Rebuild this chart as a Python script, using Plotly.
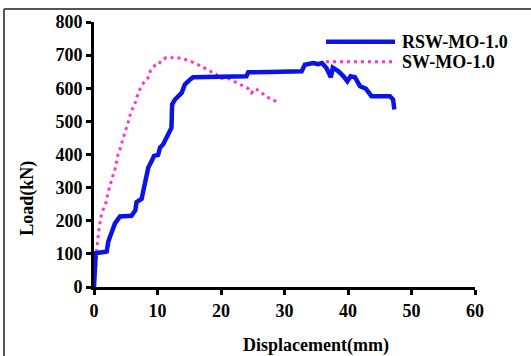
import plotly.graph_objects as go

# Load–displacement response of the two wall specimens
rsw_disp = [0, 0.27, 2.0, 2.25, 2.8, 3.3, 4.1, 5.9, 6.5, 6.7, 7.5, 7.9, 8.3, 8.55, 9.1,
            9.45, 10.1, 10.4, 10.9, 11.4, 12.2, 12.3, 12.75, 13.8, 14.3, 15.1, 15.6,
            24.0, 24.3, 27.7, 32.7, 33.2, 34.5, 35.3, 35.9, 36.6, 37.3, 37.6, 38.5,
            39.3, 39.9, 40.4, 41.1, 41.9, 42.8, 43.7, 46.6, 47.1, 47.3]
rsw_load = [0, 102, 107, 137, 166, 192, 213, 215, 231, 256, 266, 301, 325, 361, 381,
            396, 399, 421, 431, 451, 481, 551, 566, 586, 611, 626, 633,
            636, 648, 649, 651, 671, 676, 673, 676, 661, 633, 662, 651,
            636, 621, 636, 633, 606, 599, 576, 576, 566, 536]

sw_disp = [0, 0.27, 0.42, 0.8, 1.2, 1.9, 2.25, 2.9, 3.3, 3.8, 4.2, 4.5, 5.0, 5.6, 5.8,
           6.35, 6.7, 7.2, 7.8, 8.5, 8.9, 9.6, 10.2, 10.5, 11.4, 12.5, 13.7, 14.9,
           15.9, 17.0, 18.0, 19.2, 19.8, 20.6, 21.3, 22.5, 23.4, 24.3, 24.8, 25.4,
           26.3, 27.0, 28.1, 29.1]
sw_load = [0, 52, 112, 177, 222, 256, 289, 335, 356, 401, 421, 443, 471, 511, 531,
           546, 571, 596, 616, 631, 653, 669, 671, 683, 693, 693, 691, 684,
           676, 666, 654, 643, 629, 631, 628, 616, 609, 599, 586, 599,
           589, 576, 566, 556]

x_ticks = [0, 10, 20, 30, 40, 50, 60]
y_ticks = [0, 100, 200, 300, 400, 500, 600, 700, 800]

BLUE = "#0a14e6"
PINK = "#ff33cc"
FONT = "Liberation Serif, Times New Roman, serif"

fig = go.Figure()
fig.add_trace(go.Scatter(x=sw_disp, y=sw_load, mode="lines", name="SW-MO-1.0",
                         line=dict(color=PINK, width=3, dash="3px,4px")))
fig.add_trace(go.Scatter(x=rsw_disp, y=rsw_load, mode="lines", name="RSW-MO-1.0",
                         line=dict(color=BLUE, width=4.5)))

axis_common = dict(showgrid=False, zeroline=False, showline=True, linecolor="black",
                   linewidth=3, ticks="outside", tickcolor="black", tickwidth=3,
                   ticklen=5, tickfont=dict(family=FONT, size=18, color="black"))

fig.update_xaxes(range=[0, 60], tickvals=x_ticks, ticktext=[f"<b>{v}</b>" for v in x_ticks],
                 **axis_common)
fig.update_yaxes(range=[0, 800], tickvals=y_ticks, ticktext=[f"<b>{v}</b>" for v in y_ticks],
                 **axis_common)

# hand-built legend with long sample lines
legend_items = [("RSW-MO-1.0", BLUE, "solid", 4.5, 40),
                ("SW-MO-1.0", PINK, "3px,4px", 3, 60)]
shapes = []
annotations = []
for label, color, dash, width, ypx in legend_items:
    yp = 1 - (ypx - 20) / 267
    shapes.append(dict(type="line", xref="paper", yref="paper",
                       x0=(326 - 94) / 381, x1=(395 - 94) / 381, y0=yp, y1=yp,
                       line=dict(color=color, width=width, dash=dash)))
    annotations.append(dict(text=f"<b>{label}</b>", xref="paper", yref="paper",
                            x=(400 - 94) / 381, y=yp, xanchor="left", yanchor="middle",
                            showarrow=False, font=dict(family=FONT, size=18, color="black")))

# outer frame (left and top edges)
shapes.append(dict(type="line", xref="paper", yref="paper", x0=-90 / 381, x1=-90 / 381,
                   y0=1 + 13 / 267, y1=-70 / 267, line=dict(color="#555555", width=2)))
shapes.append(dict(type="line", xref="paper", yref="paper", x0=-90 / 381, x1=437 / 381,
                   y0=1 + 13 / 267, y1=1 + 13 / 267, line=dict(color="#555555", width=2)))

annotations.append(dict(text="<b>Displacement(mm)</b>", xref="paper", yref="paper",
                        x=(316 - 94) / 381, y=-(346 - 287) / 267, xanchor="center",
                        yanchor="middle", showarrow=False,
                        font=dict(family=FONT, size=18, color="black")))
annotations.append(dict(text="<b>Load(kN)</b>", xref="paper", yref="paper",
                        x=-(94 - 28) / 381, y=1 - (198 - 20) / 267, xanchor="center",
                        yanchor="middle", textangle=-90, showarrow=False,
                        font=dict(family=FONT, size=18, color="black")))

fig.update_layout(width=531, height=356, margin=dict(l=94, r=56, t=20, b=69),
                  paper_bgcolor="white", plot_bgcolor="white", showlegend=False,
                  shapes=shapes, annotations=annotations)

fig.write_html("out.html")
